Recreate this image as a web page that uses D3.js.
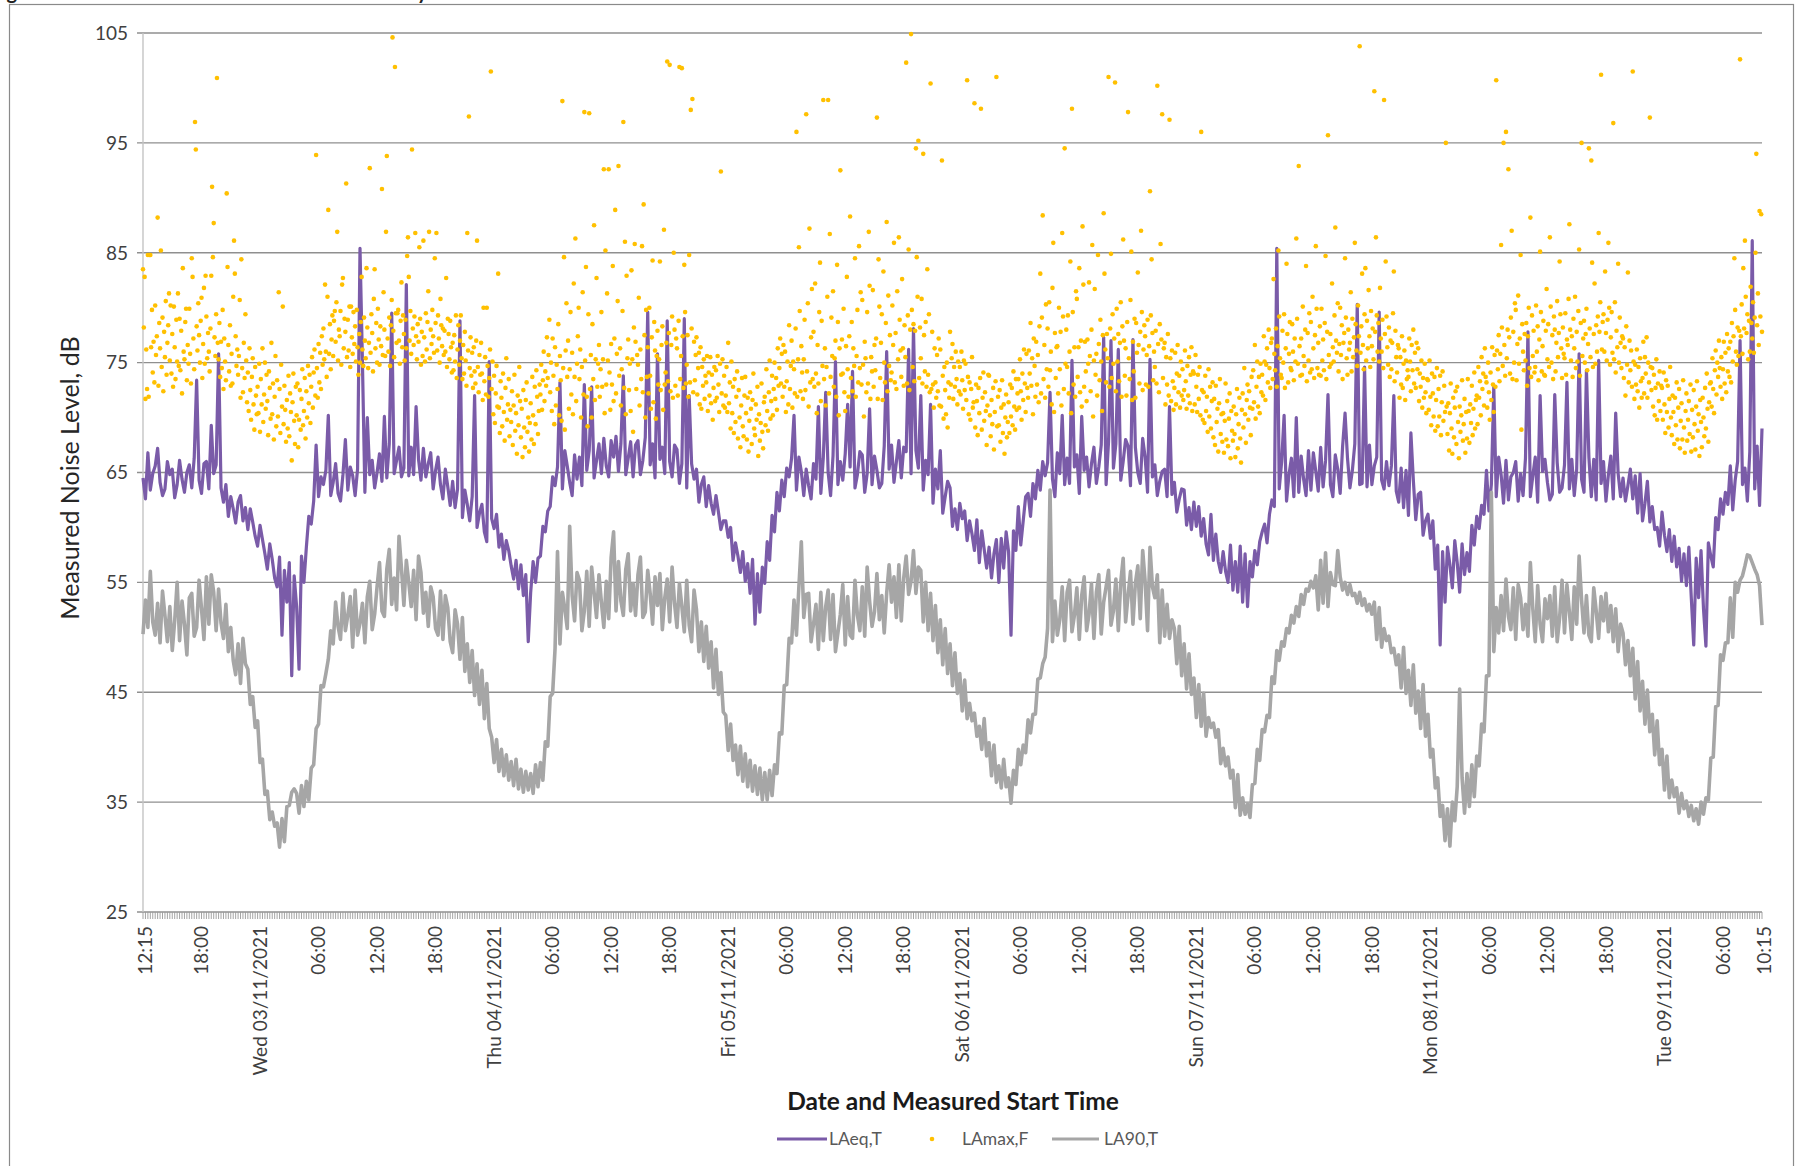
<!DOCTYPE html>
<html><head><meta charset="utf-8">
<script src="https://cdn.jsdelivr.net/npm/d3@7"></script>
<style>body{margin:0;background:#fff}svg{display:block}text{font-family:Lato,"Open Sans",sans-serif}</style>
</head><body><svg id="c" width="1796" height="1166"></svg>
<script>
// ---------- axis / tick data ----------
const yTicks=[25,35,45,55,65,75,85,95,105];
const xTickTimes=["2021-11-02T12:15","2021-11-02T18:00",
"2021-11-03T00:00","2021-11-03T06:00","2021-11-03T12:00","2021-11-03T18:00",
"2021-11-04T00:00","2021-11-04T06:00","2021-11-04T12:00","2021-11-04T18:00",
"2021-11-05T00:00","2021-11-05T06:00","2021-11-05T12:00","2021-11-05T18:00",
"2021-11-06T00:00","2021-11-06T06:00","2021-11-06T12:00","2021-11-06T18:00",
"2021-11-07T00:00","2021-11-07T06:00","2021-11-07T12:00","2021-11-07T18:00",
"2021-11-08T00:00","2021-11-08T06:00","2021-11-08T12:00","2021-11-08T18:00",
"2021-11-09T00:00","2021-11-09T06:00","2021-11-09T10:15"];
const xTickLabels=["12:15","18:00","Wed 03/11/2021","06:00","12:00","18:00","Thu 04/11/2021","06:00","12:00","18:00",
"Fri 05/11/2021","06:00","12:00","18:00","Sat 06/11/2021","06:00","12:00","18:00","Sun 07/11/2021","06:00","12:00","18:00",
"Mon 08/11/2021","06:00","12:00","18:00","Tue 09/11/2021","06:00","10:15"];
const seriesNames=["LAeq,T","LAmax,F","LA90,T"];

// ---------- LAeq,T (15-minute values) ----------
const laeqTue02=[64.5,62.6,66.8,
63.4,64.9,65.6,67.2,64.1,62.9,63.5,66.0,64.8,65.3,62.7,63.9,
66.1,64.4,63.2,65.0,65.7,63.6,66.3,73.4,64.3,63.1,65.8,66.0,
63.5,69.3,64.9,65.7,75.8,63.6,62.3,63.9,61.0,62.8,61.7,60.4,
62.3,62.9,60.6,61.8,59.8,61.7,60.5,59.2];
const laeqWed03=[58.3,60.2,58.9,57.6,56.2,58.5,57.1,55.4,54.6,57.3,50.2,56.1,
53.2,56.8,46.5,55.6,52.8,47.1,57.4,55.0,58.2,61.0,60.3,62.4,
67.5,62.8,64.6,63.9,65.2,70.2,62.9,64.1,65.8,63.1,62.4,64.8,
68.0,63.4,65.5,64.7,62.9,65.3,85.4,75.0,63.2,70.0,64.8,66.1,
63.6,65.0,66.7,64.2,70.1,64.5,67.6,79.5,64.9,66.1,67.3,64.6,
65.4,82.1,64.7,67.3,64.8,71.0,66.2,64.3,67.2,64.6,65.8,66.8,
63.5,65.2,66.4,63.9,62.6,65.3,63.7,62.0,64.2,61.8,63.5,78.8,
60.9,63.4,62.1,60.6,62.8,72.0,60.0,61.3,62.1,59.6,58.7,75.1];
const laeqThu04=[60.8,59.9,61.2,58.2,59.4,57.1,58.8,57.9,56.5,55.3,57.0,54.4,
56.6,53.8,55.7,49.6,54.1,56.9,55.0,57.2,57.4,60.1,59.6,61.5,
61.9,64.6,63.8,65.5,73.2,63.5,67.0,65.6,64.1,62.9,66.6,64.4,
66.4,63.8,73.0,65.2,67.0,72.8,64.5,66.1,67.6,64.9,68.1,65.6,
64.6,67.9,66.4,68.3,65.1,67.6,73.8,64.8,66.3,67.8,64.6,67.5,
67.9,64.8,66.1,68.2,79.6,65.7,67.6,64.5,75.8,66.2,67.3,64.9,
78.8,66.0,64.6,67.5,67.1,64.0,65.8,79.0,63.6,72.0,65.8,64.4,
65.3,62.3,63.9,64.6,61.9,63.8,62.2,61.2,62.9,61.4,59.8,60.6];
const laeqFri05=[60.6,59.1,60.0,57.0,58.6,57.4,55.9,57.8,55.1,56.7,54.0,57.1,
51.2,55.8,52.3,56.4,54.9,58.7,57.0,61.1,59.6,63.2,61.5,64.3,
62.8,65.4,64.6,66.3,70.2,63.4,66.4,65.1,62.9,65.3,63.8,62.6,
65.8,64.4,71.0,63.1,66.3,72.3,65.0,62.9,66.5,75.1,63.9,66.0,
64.3,66.7,71.2,65.5,74.2,63.6,64.8,66.9,66.6,63.2,64.9,70.8,
63.9,66.5,65.2,63.6,64.0,67.4,76.0,65.3,67.5,64.1,66.0,67.9,
64.5,67.3,66.9,76.2,64.9,78.1,67.0,65.4,72.0,63.4,66.1,64.8,
71.2,62.2,65.3,63.5,67.0,61.3,62.8,64.2,63.6,60.1,61.7,59.8];
const laeqSat06=[62.2,60.8,61.5,58.8,60.6,59.4,57.9,60.7,56.8,59.7,58.0,56.3,
58.2,55.4,57.6,58.9,55.0,59.0,56.3,59.6,57.8,50.2,59.7,57.9,
61.9,58.4,60.6,62.8,63.1,61.0,64.0,62.6,65.2,63.4,66.0,64.7,
65.9,72.3,64.4,62.8,66.8,64.9,70.2,63.9,66.3,64.0,75.2,65.5,
66.6,63.1,70.1,65.2,66.4,63.7,65.8,67.3,64.0,65.5,67.5,77.3,
63.9,67.8,77.0,65.4,67.6,76.2,64.3,66.0,68.0,67.4,63.8,77.1,
67.3,65.0,64.0,68.1,66.4,63.2,75.3,64.6,65.7,62.9,64.2,65.1,
65.3,62.8,71.0,63.0,64.1,61.4,62.6,63.5,63.4,60.2,61.8,59.8];
const laeqSun07=[62.3,60.1,61.9,59.2,60.8,58.5,57.5,61.2,57.0,59.4,56.9,55.9,
57.8,56.0,55.0,58.4,54.3,56.9,54.1,58.3,53.2,57.6,52.8,56.9,
55.5,57.9,56.6,58.7,59.6,60.3,58.6,61.2,62.5,61.9,85.4,63.5,
66.0,70.2,62.4,64.8,66.3,62.8,70.0,63.2,66.5,64.4,62.9,67.0,
63.4,66.8,65.1,63.3,67.3,63.7,66.1,72.1,63.9,62.8,66.6,65.3,
63.1,67.4,70.4,66.3,63.6,65.2,67.6,80.3,63.9,64.0,74.6,63.7,
67.5,63.9,65.6,66.4,79.6,64.3,63.5,66.0,63.8,65.6,72.0,63.3,
62.3,65.4,61.8,65.2,61.1,68.6,64.3,60.7,63.0,63.2,59.3,60.6];
const laeqMon08=[61.2,59.0,60.6,56.2,58.4,49.3,57.8,53.2,58.2,56.6,54.5,58.8,
56.8,54.1,58.5,55.7,57.7,56.0,60.2,58.4,61.0,59.9,62.0,61.2,
65.2,61.5,63.9,72.8,62.8,66.4,64.8,62.2,66.1,62.5,64.6,65.0,
66.0,62.4,64.9,62.9,66.3,77.8,62.8,64.7,66.4,62.3,72.0,65.1,
66.2,64.1,62.5,63.0,72.1,65.9,63.2,63.6,65.7,73.2,63.5,66.2,
62.9,65.3,75.8,64.4,63.2,74.3,66.4,62.8,66.2,62.5,75.2,64.0,
66.0,62.4,64.8,66.5,62.6,70.4,64.9,62.8,64.5,62.4,63.8,65.3,
62.6,64.7,61.3,64.9,60.6,62.2,64.2,60.5,61.9,59.8,60.0,58.3];
const laeqTue09=[61.4,59.3,57.8,59.8,56.9,59.2,56.4,58.1,55.1,57.6,54.7,58.2,
53.6,49.3,57.2,53.6,57.9,52.6,49.2,58.6,57.4,56.4,60.9,59.8,
62.6,61.2,63.2,62.1,65.6,61.6,64.3,66.0,77.0,63.9,65.4,62.4,
66.9,86.1,63.5,67.4,62.0,69.0];

// ---------- LA90,T (15-minute values) ----------
const la90Tue02=[50.3,53.4,50.9,
56.0,51.4,50.2,53.1,49.5,54.2,52.0,49.6,52.8,48.8,51.5,55.0,
49.7,53.3,51.2,48.4,53.6,54.0,50.1,50.9,55.2,52.6,49.8,55.5,
51.2,55.7,54.1,50.6,54.4,51.3,49.9,53.0,48.7,50.9,47.9,46.6,
49.4,45.8,49.9,47.6,47.1,43.9,44.6,41.8];
const la90Wed03=[42.4,38.6,38.9,35.7,36.0,33.4,34.1,32.8,33.1,30.9,33.5,31.4,
34.6,34.7,35.9,36.2,35.8,34.0,36.5,34.6,36.9,35.2,38.1,38.4,
41.7,42.1,45.6,45.5,46.7,48.0,50.6,49.4,53.2,51.0,49.8,54.0,
50.6,52.0,53.7,49.1,54.3,50.2,51.3,53.1,49.5,53.7,55.1,50.7,
52.1,54.6,56.8,52.4,51.9,56.2,58.0,53.0,55.4,52.5,59.2,56.3,
52.9,57.0,55.0,52.8,56.1,51.6,57.4,55.9,52.2,54.1,51.0,54.6,
53.7,50.8,50.2,54.2,49.8,53.8,52.7,49.6,48.6,52.5,51.2,48.0,
51.8,46.9,49.4,45.9,48.8,44.7,47.6,43.9,47.0,42.6,45.8,41.7];
const la90Thu04=[40.9,38.6,40.7,37.8,39.8,37.4,39.3,37.0,38.7,36.5,38.9,36.2,
38.0,35.9,37.8,36.1,37.6,35.8,38.4,36.4,38.6,37.0,40.5,40.1,
44.6,44.9,49.0,57.8,49.4,54.1,52.6,50.8,60.1,53.8,51.5,55.9,
55.2,50.6,52.4,56.0,51.0,56.4,54.1,51.8,55.7,53.2,50.9,55.1,
51.7,57.3,59.6,52.4,56.9,53.3,52.0,56.2,57.6,52.4,54.9,52.0,
55.7,57.3,51.8,52.3,56.1,54.0,51.2,55.5,52.9,55.8,50.7,53.6,
55.3,51.4,56.4,53.1,50.9,54.9,52.8,50.5,55.2,51.1,49.6,54.3,
52.5,48.7,51.4,47.8,51.0,47.2,49.6,45.4,48.9,44.8,46.8,43.2];
const la90Fri05=[42.9,39.7,42.1,38.8,40.2,37.5,40.1,36.9,39.4,36.4,38.8,36.0,
38.3,35.7,38.1,35.2,37.7,35.2,37.9,35.6,38.4,37.6,41.3,41.2,
45.6,45.7,49.9,49.5,53.4,50.2,54.6,58.7,51.8,53.9,54.0,49.6,
51.2,53.0,48.9,54.1,49.7,52.8,54.3,49.8,53.9,48.7,50.4,52.1,
54.8,49.3,53.7,50.2,49.9,55.2,52.0,50.6,54.6,50.1,56.4,53.3,
51.0,52.3,55.8,51.6,53.8,50.4,54.0,56.6,53.2,55.5,51.8,56.6,
51.5,55.4,57.4,53.9,55.1,57.9,54.0,56.4,56.1,51.4,55.0,50.6,
54.0,49.7,52.9,48.6,51.6,47.5,50.8,46.7,49.4,45.6,48.6,44.9];
const la90Sat06=[46.7,43.3,46.1,42.6,44.0,42.4,43.1,41.0,41.9,39.8,42.6,39.2,
40.4,37.4,40.2,36.8,38.3,36.3,38.9,36.4,37.2,34.9,37.9,36.6,
39.8,38.4,40.2,39.5,42.5,41.3,43.0,43.0,46.2,46.3,47.6,48.2,
50.8,63.4,49.6,53.3,50.2,51.6,54.6,49.7,54.1,55.2,50.5,52.0,
54.5,49.8,53.8,55.5,50.6,52.1,54.9,49.9,54.1,55.7,50.3,53.2,
54.6,56.1,51.1,52.4,55.3,50.6,55.0,57.2,51.4,53.8,56.0,51.2,
54.9,56.5,51.7,57.9,55.1,50.6,58.2,54.6,53.6,55.7,49.5,54.3,
50.1,53.0,49.9,51.6,50.8,47.6,51.0,46.5,49.4,45.3,48.5,44.8];
const la90Sun07=[46.3,42.7,45.7,41.9,44.9,41.0,42.7,41.8,42.2,40.9,41.6,38.5,
39.9,38.3,39.1,37.2,37.9,34.5,37.5,33.8,35.4,33.9,34.8,33.6,
36.6,36.7,39.8,38.8,41.6,41.4,42.9,42.7,46.4,45.8,48.8,47.9,
49.6,49.2,50.8,50.4,52.0,51.3,52.8,51.9,53.9,53.0,54.4,54.2,
55.1,54.5,55.6,52.5,57.0,53.1,57.7,52.8,55.9,54.8,54.7,57.9,
55.5,54.3,55.0,53.9,54.8,53.8,54.0,53.1,54.1,52.9,53.5,52.4,
53.0,52.1,53.2,49.8,52.7,49.1,50.8,49.7,50.1,48.6,49.0,47.5,
48.4,45.4,49.1,44.9,47.0,43.8,47.5,43.1,45.1,41.7,45.7,41.0];
const la90Mon08=[43.0,39.1,39.8,36.3,37.2,33.7,34.7,31.5,34.4,31.0,35.0,33.3,
36.4,45.3,37.2,34.0,37.6,34.6,38.4,35.5,39.2,38.3,42.1,41.4,
46.5,46.5,63.2,48.7,52.7,50.4,53.8,50.6,55.3,51.9,50.7,54.5,
49.8,54.8,53.6,50.7,53.0,50.1,56.8,52.6,49.6,54.7,51.2,49.6,
53.5,51.7,53.8,50.1,54.6,49.6,51.8,55.2,50.4,54.8,52.3,49.8,
54.6,51.2,57.4,53.4,50.4,53.8,50.2,49.6,54.5,52.4,49.9,53.7,
51.5,54.0,50.5,52.9,49.6,52.6,48.7,51.2,50.4,47.5,49.7,46.5,
49.0,44.4,47.8,43.3,46.0,42.1,45.2,41.4,43.0,39.3,42.4,38.4];
const la90Tue09=[39.8,36.1,39.2,35.4,37.0,35.5,36.3,34.0,35.8,34.4,35.1,33.7,
34.7,33.3,34.4,33.0,35.0,33.9,35.4,35.2,39.0,39.1,43.7,43.8,
48.4,47.9,49.5,49.5,53.6,50.0,55.0,54.1,55.2,55.6,56.5,57.5,
57.4,56.8,56.2,55.7,54.7,51.1];

// ---------- LAmax,F (5-minute values) ----------
const lamaxTue02=[83.5,78.2,82.8,71.7,76.2,72.6,84.8,71.9,84.8,
84.8,76.4,79.8,74.1,76.9,73.2,80.2,75.7,77.4,88.2,72.9,78.6,
76.3,85.2,74.6,79.1,72.4,77.8,75.5,80.6,73.9,76.8,78.4,81.3,
75.2,80.2,74.0,77.6,72.8,80.1,76.4,73.5,78.9,75.1,81.3,74.7,
79.0,74.3,77.9,72.2,83.6,76.0,75.3,78.7,79.9,73.4,76.6,74.9,
79.9,75.8,73.1,84.5,82.8,77.2,74.4,96.9,94.4,78.3,76.1,80.4,
77.5,75.0,78.8,80.9,73.6,76.7,81.8,74.9,82.9,79.2,75.4,77.7,
76.0,74.2,78.1,82.9,91.0,84.6,87.7,77.3,75.6,79.4,100.9,76.8,
75.3,78.6,73.7,76.9,74.5,79.8,72.6,77.2,75.1,73.4,90.4,83.7,
76.6,74.2,78.4,72.9,75.8,73.1,81.0,86.1,83.1,77.4,74.7,76.2,
73.9,75.6,80.7,71.8,84.4,74.5,72.3,76.8,73.6,79.4,75.2,71.4,
74.1,70.6,76.3,72.5,69.8,73.7,75.4,71.2,68.9,74.6,72.0,70.3];
const lamaxWed03=[72.8,70.4,74.9,68.7,73.5,71.2,76.3,69.6,72.1,75.0,70.8,73.9,
71.5,68.4,74.2,72.7,69.9,76.8,70.3,73.1,68.0,71.9,75.6,69.2,
73.4,70.1,81.4,72.6,68.6,74.8,71.0,80.1,69.4,72.9,70.7,67.8,
71.6,69.0,73.8,68.3,72.2,70.5,66.1,71.4,74.0,69.7,67.6,72.8,
70.2,73.1,67.3,69.8,72.5,68.9,71.7,74.4,69.3,70.6,73.6,68.1,
72.4,70.0,74.7,71.3,73.9,69.5,72.8,75.5,70.9,74.1,76.2,72.0,
93.9,74.5,71.8,76.7,73.2,75.9,72.6,77.4,74.8,78.1,75.3,82.1,
76.0,73.7,81.0,88.9,75.8,78.5,74.4,77.1,79.3,75.6,78.8,79.7,
76.9,80.5,86.9,75.2,78.0,77.4,79.7,74.8,82.1,82.7,76.3,79.0,
77.8,91.3,75.5,78.9,76.1,80.1,74.6,80.1,77.3,75.8,79.6,76.7,
78.3,75.1,79.8,76.4,73.9,77.6,75.0,78.7,82.8,76.2,74.7,79.1,
77.0,75.4,83.6,78.2,74.5,76.8,92.7,75.9,79.4,77.7,74.2,80.8,
83.5,76.3,78.6,75.0,79.9,77.1,74.8,78.3,76.5,90.8,75.7,81.4,
78.0,75.6,86.9,93.8,77.2,76.0,79.1,74.7,78.4,80.7,104.6,77.9,
75.5,101.9,79.5,76.8,79.5,79.8,77.0,74.9,78.8,82.3,76.4,79.3,
77.6,75.2,78.9,76.3,84.7,86.4,82.8,77.0,79.7,75.8,94.4,78.1,
76.6,79.2,86.8,77.4,75.3,78.5,76.9,85.5,79.0,74.8,77.8,75.6,
86.1,77.3,75.1,79.5,76.2,78.7,81.5,86.9,75.4,78.0,76.7,79.8,
77.4,75.9,84.5,78.6,86.8,76.1,79.3,77.2,75.0,80.8,78.4,76.5,
78.1,75.7,77.9,76.0,82.7,74.6,79.0,77.6,75.3,78.8,76.4,74.1,
76.8,74.3,77.5,75.1,79.3,73.6,76.2,78.4,74.8,77.0,79.3,75.4,
73.5,76.6,74.0,77.8,75.2,72.9,86.8,76.1,97.4,74.5,77.3,73.8,
75.9,72.7,76.4,74.2,73.1,77.0,86.1,74.6,72.3,75.7,73.9,76.8,
74.0,71.6,80.0,73.3,75.5,72.1,80.0,74.7,71.9,73.6,76.2,101.5];
const lamaxThu04=[72.6,75.1,70.3,73.8,69.5,72.2,74.7,71.0,83.1,70.9,68.6,73.3,
71.8,69.2,74.0,70.5,67.9,72.7,75.4,69.8,71.2,73.5,68.3,70.7,
69.6,72.4,67.5,71.1,73.9,68.8,70.4,66.7,72.0,69.3,74.6,71.5,
68.2,70.8,66.4,72.5,69.1,67.3,71.6,73.2,68.7,70.0,66.9,69.5,
71.3,68.0,73.7,70.2,67.6,72.8,69.4,74.3,71.9,68.5,70.6,73.0,
72.1,74.8,70.7,73.4,76.0,71.5,74.2,72.9,77.3,73.6,75.7,78.9,
72.3,75.0,70.6,77.2,73.8,69.4,76.4,71.1,74.8,72.6,78.5,70.2,
75.6,73.4,69.7,98.8,74.5,84.6,68.9,76.1,80.4,73.7,77.0,70.8,
74.4,79.6,72.1,75.9,70.3,82.2,73.7,86.3,71.5,74.9,77.4,80.0,
73.5,76.2,70.0,74.6,81.4,72.1,97.8,75.2,83.7,71.9,69.2,79.4,
97.7,72.6,75.7,70.0,78.5,73.5,87.5,71.6,75.3,82.7,72.8,74.9,
76.6,71.9,74.4,79.6,72.8,75.3,92.6,70.4,85.2,73.0,81.3,75.2,
92.6,74.1,70.7,76.7,73.0,83.8,71.5,77.2,88.9,72.2,75.8,80.6,
92.9,73.8,76.3,71.1,74.4,79.7,96.9,72.7,86.0,70.3,82.9,75.4,
77.1,72.5,74.9,70.6,83.4,75.3,68.7,78.2,85.8,76.9,72.6,75.7,
74.8,80.9,71.1,76.2,73.5,85.6,72.3,89.4,77.5,70.0,79.8,73.7,
76.4,72.2,80.0,73.8,70.8,77.3,84.3,71.4,78.7,76.1,69.9,75.6,
77.9,73.0,75.3,84.2,72.5,76.6,78.3,70.7,87.1,73.0,74.1,76.8,
102.4,73.3,77.7,102.1,72.4,76.6,79.2,71.8,85.0,78.0,72.9,77.2,
76.3,72.0,78.8,101.9,73.5,75.6,101.8,77.4,72.7,83.9,79.6,73.1,
74.8,77.5,71.9,84.8,73.2,98.0,78.1,99.0,72.3,76.9,73.4,75.7,
77.3,72.1,74.5,75.9,71.2,76.4,70.8,74.6,72.9,75.3,71.7,73.8,
73.2,75.6,70.6,74.1,72.0,75.5,71.3,73.9,69.8,72.7,74.6,71.5,
74.3,71.8,75.6,73.0,70.5,74.9,92.4,72.2,75.3,71.1,73.8,70.9];
const lamaxFri05=[72.0,74.6,70.5,76.8,71.3,73.2,69.0,75.1,70.4,72.8,68.6,73.5,
69.6,71.9,74.2,68.1,72.5,70.0,67.3,71.1,73.6,69.2,68.3,72.0,
73.7,70.4,68.0,71.8,66.9,69.7,72.3,70.8,67.6,71.6,74.0,69.0,
68.4,71.2,69.8,72.8,66.5,70.3,67.9,69.5,73.1,68.7,67.2,71.4,
71.9,69.3,74.4,70.6,68.8,72.3,75.2,69.9,71.5,73.8,70.2,72.6,
75.0,71.7,73.6,70.7,76.3,72.9,74.5,77.2,73.1,75.8,71.9,76.6,
72.8,76.0,70.5,73.3,75.1,71.2,78.4,72.6,74.7,77.0,70.9,75.1,
74.4,72.2,78.1,96.0,71.9,75.3,85.5,79.7,72.4,76.5,74.1,71.7,
75.3,78.9,72.5,97.6,74.2,80.4,71.0,87.2,73.2,77.3,81.7,73.5,
77.8,72.8,82.2,74.0,70.4,76.6,73.1,79.6,84.1,71.5,78.8,74.7,
98.9,73.5,76.3,71.1,74.6,81.0,98.9,72.2,86.7,73.7,79.1,75.6,
81.5,72.8,75.4,77.0,71.9,83.9,78.7,70.2,76.3,92.5,73.9,77.1,
74.0,79.9,72.3,70.6,76.5,82.8,74.4,71.9,77.4,88.3,73.6,78.7,
72.4,76.3,74.7,84.5,71.9,75.6,79.8,73.2,85.6,74.5,81.4,73.0,
80.7,74.8,70.1,76.9,75.4,72.3,79.6,73.1,86.9,82.0,71.7,75.5,
74.2,81.6,72.8,76.6,74.3,77.2,97.3,71.7,84.4,80.1,73.6,76.8,
79.4,71.6,83.3,75.0,73.2,78.6,87.8,72.4,81.1,74.7,77.5,73.4,
74.1,80.2,76.6,85.9,73.2,77.7,72.6,81.5,75.3,86.4,78.9,76.1,
73.7,82.6,76.3,72.9,78.4,75.5,102.3,73.1,79.3,85.3,72.5,78.0,
104.9,79.8,74.6,78.5,73.3,77.9,94.5,84.6,81.0,95.2,73.6,78.2,
75.4,80.8,73.1,94.0,77.5,74.2,78.7,72.8,83.5,73.9,79.4,72.3,
100.4,72.6,77.8,73.0,70.9,76.3,73.2,71.8,75.7,72.4,77.2,71.1,
76.2,71.0,93.4,73.8,69.9,74.6,72.5,70.3,75.0,69.1,73.2,71.8,
77.8,73.0,75.4,76.7,71.7,74.6,72.8,76.0,73.5,71.2,75.1,72.4];
const lamaxSat06=[74.6,72.1,76.0,73.4,70.8,75.2,72.5,74.9,71.6,100.7,73.7,70.3,
73.2,69.8,72.6,75.5,70.9,71.4,98.6,69.1,73.0,71.5,68.4,72.7,
70.4,73.6,98.1,68.9,71.8,74.1,69.7,72.3,70.6,67.5,71.1,73.9,
73.8,70.2,68.3,71.6,69.4,72.7,67.1,70.5,73.3,101.0,69.2,71.9,
69.3,72.5,67.8,70.9,73.4,68.6,71.2,66.7,70.0,72.1,68.2,69.6,
71.4,68.6,73.0,70.1,72.7,69.3,74.2,71.0,68.9,73.5,70.7,72.2,
73.5,70.9,75.3,72.4,69.8,74.0,71.6,76.2,73.1,70.5,75.8,72.7,
71.8,76.1,74.0,78.6,72.9,75.4,70.3,77.2,74.7,71.9,76.9,73.0,
75.7,71.4,78.3,83.1,72.2,79.1,88.4,73.5,76.6,71.8,80.3,74.4,
78.1,72.8,80.5,74.3,76.0,71.2,81.8,85.9,70.5,77.7,73.6,76.4,
76.5,72.2,80.0,74.4,77.8,71.1,86.8,79.2,72.6,94.5,74.9,78.0,
74.6,79.3,72.2,76.0,84.2,70.4,98.1,79.6,73.0,76.4,71.9,81.5,
80.8,73.7,76.4,83.6,72.3,77.0,71.0,87.4,82.1,72.8,76.9,74.2,
71.5,77.1,74.9,82.3,75.6,72.4,78.0,85.7,70.1,75.2,81.7,73.9,
75.8,72.0,84.8,76.7,73.4,78.9,75.1,70.6,77.5,88.6,83.1,76.2,
73.2,77.6,75.4,101.0,72.8,78.1,84.9,73.6,79.4,74.9,77.2,100.5,
72.4,79.9,75.1,77.6,73.3,76.8,80.5,71.9,78.3,86.2,77.0,73.8,
76.3,72.0,78.7,97.8,75.4,73.5,80.7,85.1,71.6,76.9,74.2,79.0,
71.8,78.6,75.9,83.2,76.6,73.1,77.8,87.0,79.6,72.5,76.2,78.4,
77.4,73.0,75.7,78.9,72.8,76.5,90.6,79.3,84.4,77.7,73.4,76.0,
74.6,77.9,73.1,100.2,76.7,72.3,78.5,85.8,77.1,97.6,73.6,76.3,
76.8,71.2,75.5,73.0,77.6,72.0,97.1,75.4,71.5,76.1,73.3,70.7,
72.7,75.9,71.2,74.0,76.6,72.3,73.8,70.9,75.1,72.0,74.4,71.6,
72.5,76.1,73.3,70.8,74.7,72.0,75.5,71.3,73.9,76.4,70.6,74.2];
const lamaxSun07=[74.0,71.2,75.7,72.8,70.5,73.9,71.7,74.6,70.2,96.0,72.5,69.8,
72.3,69.5,73.8,70.6,71.9,68.7,74.4,70.1,72.8,69.0,71.5,73.2,
68.2,71.7,67.5,72.9,69.6,70.8,66.9,71.3,73.5,68.5,70.3,67.8,
70.4,66.8,69.7,73.1,68.0,71.5,67.4,69.9,72.2,66.3,70.6,68.8,
67.9,71.0,68.5,66.4,70.3,72.6,67.2,69.4,71.8,68.1,65.9,70.7,
72.2,69.1,74.5,70.3,67.7,71.6,73.0,69.8,72.4,70.9,68.4,73.7,
70.8,74.3,71.4,76.6,69.9,72.8,75.1,71.0,73.7,70.4,74.9,72.3,
73.9,72.0,77.4,75.1,71.6,74.8,76.3,73.2,78.0,74.5,72.7,76.8,
77.2,73.5,82.6,75.8,74.3,78.1,72.8,76.5,85.2,79.2,75.4,73.9,
73.6,77.9,75.0,79.4,72.7,76.3,84.0,77.6,73.2,75.8,78.7,74.5,
74.3,78.5,76.0,73.4,77.2,75.1,86.3,79.0,74.9,92.9,76.5,73.8,
77.2,73.9,80.1,75.6,74.7,78.0,83.8,73.3,77.7,75.2,79.5,74.1,
78.7,74.4,81.0,76.3,73.6,77.5,85.6,79.9,74.5,76.8,73.9,78.3,
73.8,79.9,75.2,77.1,74.3,78.6,84.7,73.5,77.8,95.7,75.7,74.6,
77.6,74.9,82.2,76.4,75.1,79.3,87.3,77.0,75.9,80.4,74.2,76.7,
80.0,75.7,78.4,73.5,76.8,77.7,84.5,79.1,75.4,73.9,78.0,76.2,
76.8,81.4,74.2,79.0,75.5,77.3,85.9,78.5,76.1,74.7,80.2,77.4,
103.8,75.9,78.3,83.1,76.6,74.4,79.4,83.6,75.2,78.8,76.3,81.6,
77.4,74.6,79.7,76.5,78.1,75.3,99.7,77.8,86.4,79.3,76.0,78.6,
75.1,81.8,77.2,76.0,78.9,74.5,98.9,77.6,84.2,79.2,76.4,74.8,
78.2,73.7,77.0,74.4,76.8,79.5,83.3,73.3,77.9,75.5,74.1,76.6,
76.3,71.8,75.5,73.0,77.4,72.7,74.9,76.1,71.6,75.2,73.5,74.3,
73.7,77.2,75.1,72.4,76.6,74.3,78.0,73.1,75.9,72.7,76.8,74.4,
76.3,71.5,74.0,72.8,75.2,70.9,73.6,71.8,74.9,72.3,70.4,73.5];
const lamaxMon08=[73.4,70.7,75.2,71.9,69.3,74.0,72.2,70.1,73.7,68.8,71.6,74.5,
69.2,72.6,70.1,73.8,68.4,71.4,74.2,69.7,72.9,70.5,95.0,71.0,
68.5,71.3,67.0,70.4,73.1,69.0,66.7,71.8,68.2,70.9,72.4,67.6,
72.8,69.6,66.3,71.0,68.7,70.2,73.4,67.9,69.4,71.7,66.8,70.5,
68.1,73.5,70.6,67.7,71.2,69.5,72.9,68.4,70.8,74.1,69.0,71.6,
72.0,69.4,74.6,71.8,73.3,70.2,75.5,72.6,74.0,71.1,76.3,73.7,
73.2,70.9,75.0,72.3,69.8,74.1,71.6,76.4,73.0,70.5,75.7,72.8,
100.7,76.1,74.4,77.5,73.3,75.8,85.7,78.2,74.7,95.0,76.6,73.8,
96.0,75.4,78.0,92.6,77.3,74.0,79.1,87.0,73.5,77.8,75.0,80.4,
79.8,73.4,76.7,81.1,74.9,77.2,84.8,68.9,78.5,76.0,74.3,77.6,
75.2,78.6,72.9,77.4,80.0,74.5,88.2,73.7,79.3,75.6,77.9,74.1,
74.6,80.2,76.0,78.3,73.4,77.1,85.1,79.6,74.2,76.5,78.8,73.9,
73.8,77.9,81.7,75.3,78.5,74.6,86.4,80.1,75.0,77.5,73.5,79.2,
78.0,74.2,76.8,80.6,75.5,77.7,84.2,79.4,76.3,73.6,78.2,75.8,
75.4,79.5,73.9,77.1,76.6,80.8,87.6,78.0,75.2,77.4,73.7,79.0,
76.3,81.0,74.5,77.8,75.1,79.7,85.3,73.8,78.6,95.0,75.6,77.2,
78.8,75.0,77.6,79.9,74.3,76.7,94.5,78.1,75.5,93.4,84.1,74.6,
77.6,82.2,74.9,78.4,76.0,79.2,86.8,77.8,80.5,101.2,76.2,78.7,
79.4,76.0,83.3,77.7,75.2,78.9,85.9,80.0,74.8,77.3,79.6,75.9,
96.8,75.3,80.5,74.1,77.9,76.4,84.0,75.0,79.1,76.8,74.5,77.4,
77.2,73.6,76.4,72.0,78.3,74.8,83.2,73.2,77.0,74.3,76.1,72.8,
101.5,75.1,71.7,74.8,73.0,76.2,72.4,74.6,70.9,75.4,73.3,71.8,
73.6,76.9,72.2,75.5,74.0,77.3,71.8,75.0,73.2,97.3,74.6,72.5,
74.5,71.0,73.9,70.2,72.7,75.3,69.8,73.1,71.5,74.2,70.6,72.9];
const lamaxTue09=[72.7,69.8,74.1,71.2,68.6,73.4,70.5,72.9,69.1,71.7,74.6,70.0,
68.4,72.0,70.5,67.6,71.8,69.3,73.2,68.0,70.9,72.6,67.2,69.7,
71.3,68.0,73.4,69.1,66.8,70.6,72.2,67.9,69.8,71.5,68.5,73.0,
66.9,70.7,68.2,72.5,69.4,67.1,71.0,73.3,68.8,70.3,66.5,71.6,
69.6,67.3,71.8,70.0,68.3,72.7,69.0,74.0,70.8,67.8,71.4,73.1,
73.2,71.0,75.4,72.6,70.4,74.3,76.1,72.1,75.0,73.7,77.0,74.5,
72.8,75.5,71.7,74.4,76.9,73.1,75.9,72.3,77.6,74.2,76.3,73.7,
76.9,73.2,78.6,75.1,77.4,84.5,79.8,76.0,74.8,78.2,75.6,77.9,
102.6,77.4,80.3,75.8,83.6,78.1,86.1,81.0,77.7,79.4,75.3,78.8,
76.0,81.9,78.6,77.2,80.5,75.9,79.1,85.0,94.0,78.4,81.3,76.6,
88.8,79.2,88.5,77.8];

// ---------- assemble series ----------
const dayStarts=["2021-11-02T12:15","2021-11-03T00:00","2021-11-04T00:00","2021-11-05T00:00",
"2021-11-06T00:00","2021-11-07T00:00","2021-11-08T00:00","2021-11-09T00:00"];
function build(arrays, stepMin){
  const out=[];
  arrays.forEach((vals,k)=>{
    const t0=new Date(dayStarts[k]).getTime();
    vals.forEach((v,i)=>out.push({t:new Date(t0+i*stepMin*60000),v}));
  });
  return out;
}
const laeq=build([laeqTue02,laeqWed03,laeqThu04,laeqFri05,laeqSat06,laeqSun07,laeqMon08,laeqTue09],15);
const la90=build([la90Tue02,la90Wed03,la90Thu04,la90Fri05,la90Sat06,la90Sun07,la90Mon08,la90Tue09],15);
const lamax=build([lamaxTue02,lamaxWed03,lamaxThu04,lamaxFri05,lamaxSat06,lamaxSun07,lamaxMon08,lamaxTue09],5);

// ---------- drawing ----------
const C={laeq:"#7a5ba8",lamax:"#ffc000",la90:"#a6a6a6",grid:"#8f8f8f",text:"#404040"};
const svg=d3.select("#c");
const x=d3.scaleTime().domain([new Date("2021-11-02T12:15"),new Date("2021-11-09T10:15")]).range([143,1762]);
const y=d3.scaleLinear().domain([25,105]).range([912,33]);

svg.append("rect").attr("x",9.5).attr("y",4.5).attr("width",1784).attr("height",1250)
  .attr("fill","none").attr("stroke","#8a8a8a").attr("stroke-width",1.2);
svg.append("text").attr("x",-10).attr("y",-1).attr("font-weight","bold").attr("font-size",20)
  .attr("fill","#222").text("Figure 1: Unattended Noise Measurement Survey");

// gridlines + y labels
svg.append("g").selectAll("line").data(yTicks).join("line")
  .attr("x1",137).attr("x2",1762).attr("y1",d=>y(d)).attr("y2",d=>y(d))
  .attr("stroke",C.grid).attr("stroke-width",1.4);
svg.append("line").attr("x1",143).attr("x2",143).attr("y1",y(105)).attr("y2",y(25))
  .attr("stroke","#c4c4c4").attr("stroke-width",1.4);
svg.append("g").selectAll("text").data(yTicks).join("text")
  .attr("x",128).attr("y",d=>y(d)).attr("dy","0.36em").attr("text-anchor","end")
  .attr("font-size",19).attr("fill",C.text).text(d=>d);

// minor ticks (every 15 min)
const minor=d3.timeMinute.every(15).range(x.domain()[0],new Date(+x.domain()[1]+1));
svg.append("g").selectAll("line").data(minor).join("line")
  .attr("x1",d=>x(d)).attr("x2",d=>x(d)).attr("y1",912).attr("y2",919)
  .attr("stroke","#9a9a9a").attr("stroke-width",0.9);

// x labels
const gx=svg.append("g").attr("transform","translate(0,912)")
  .call(d3.axisBottom(x).tickValues(xTickTimes.map(s=>new Date(s))).tickSize(0).tickFormat((d,i)=>xTickLabels[i]));
gx.select(".domain").remove();
gx.attr("font-family","Lato").attr("font-size",19);
gx.selectAll("text").attr("transform","rotate(-90)").attr("text-anchor","end")
  .attr("x",-14).attr("y",0).attr("dy","0.45em").attr("fill",C.text);

// series
const line=d3.line().x(d=>x(d.t)).y(d=>y(d.v));
svg.append("path").datum(laeq).attr("d",line).attr("fill","none").attr("stroke",C.laeq)
  .attr("stroke-width",3.2).attr("stroke-linejoin","round");
svg.append("g").selectAll("circle").data(lamax).join("circle")
  .attr("cx",d=>x(d.t)).attr("cy",d=>y(d.v)).attr("r",2.3).attr("fill",C.lamax);
svg.append("path").datum(la90).attr("d",line).attr("fill","none").attr("stroke",C.la90)
  .attr("stroke-width",3.6).attr("stroke-linejoin","round");

// axis titles
svg.append("text").attr("transform","translate(70,478) rotate(-90)").attr("text-anchor","middle")
  .attr("dy","0.35em").attr("font-size",25).attr("fill","#262626").text("Measured Noise Level, dB");
svg.append("text").attr("x",953).attr("y",1110).attr("text-anchor","middle").attr("font-weight","bold")
  .attr("font-size",24.5).attr("fill","#1a1a1a").text("Date and Measured Start Time");

// legend
const ly=1139;
const lg=svg.append("g");
lg.append("line").attr("x1",777).attr("x2",827).attr("y1",ly).attr("y2",ly).attr("stroke",C.laeq).attr("stroke-width",3);
lg.append("text").attr("x",829).attr("y",ly).attr("dy","0.35em").attr("font-size",17.5).attr("fill","#595959").text(seriesNames[0]);
lg.append("circle").attr("cx",932).attr("cy",ly).attr("r",2.3).attr("fill",C.lamax);
lg.append("text").attr("x",962).attr("y",ly).attr("dy","0.35em").attr("font-size",17.5).attr("fill","#595959").text(seriesNames[1]);
lg.append("line").attr("x1",1052).attr("x2",1099).attr("y1",ly).attr("y2",ly).attr("stroke",C.la90).attr("stroke-width",3);
lg.append("text").attr("x",1104).attr("y",ly).attr("dy","0.35em").attr("font-size",17.5).attr("fill","#595959").text(seriesNames[2]);
</script></body></html>
